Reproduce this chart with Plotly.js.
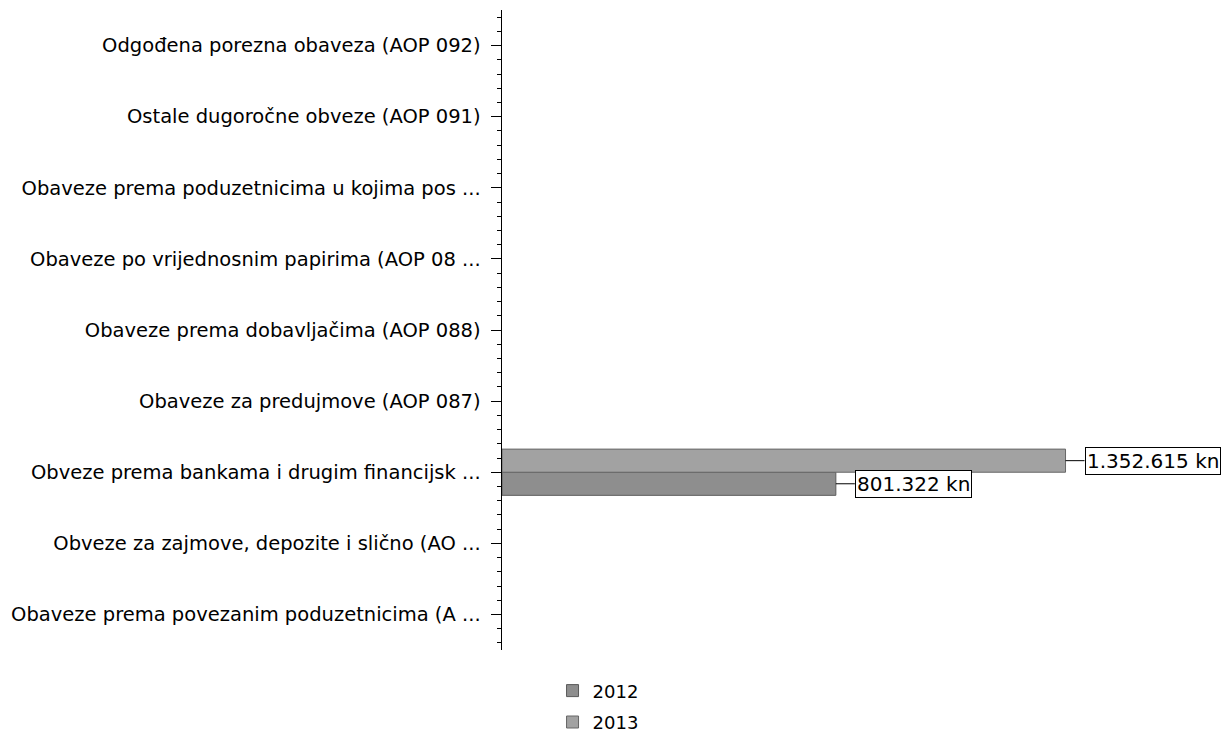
<!DOCTYPE html>
<html>
<head>
<meta charset="utf-8">
<script src="https://cdn.plot.ly/plotly-3.0.1.min.js"></script>
<style>html,body{margin:0;padding:0;background:#fff;}#chart{width:1224px;height:742px;}</style>
</head>
<body>
<div id="chart"></div>
<script>
// Categories, bottom to top
const categories = [
  "Obaveze prema povezanim poduzetnicima (A ...",
  "Obveze za zajmove, depozite i slično (AO ...",
  "Obveze prema bankama i drugim financijsk ...",
  "Obaveze za predujmove (AOP 087)",
  "Obaveze prema dobavljačima (AOP 088)",
  "Obaveze po vrijednosnim papirima (AOP 08 ...",
  "Obaveze prema poduzetnicima u kojima pos ...",
  "Ostale dugoročne obveze (AOP 091)",
  "Odgođena porezna obaveza (AOP 092)"
];
const seriesNames = ["2012", "2013"];
const values2012 = [null, null, 801322, null, null, null, null, null, null];
const values2013 = [null, null, 1352615, null, null, null, null, null, null];

const positions = categories.map((c, i) => i);
const BARGAP = 0.35;
const half = (1 - BARGAP) / 4;

function fmt(v) {
  return String(v).replace(/\B(?=(\d{3})+(?!\d))/g, ".") + " kn";
}

const font = "DejaVu Sans, Verdana, sans-serif";

const traces = [
  {
    type: "bar", orientation: "h", name: seriesNames[0], legendgroup: "a",
    x: values2012, y: positions,
    marker: {color: "#8e8e8e", line: {color: "#5a5a5a", width: 1}},
    hoverinfo: "x"
  },
  {
    type: "bar", orientation: "h", name: seriesNames[1], legendgroup: "b",
    x: values2013, y: positions,
    marker: {color: "#a2a2a2", line: {color: "#666", width: 1}},
    hoverinfo: "x"
  }
];

const annotations = [];
[values2012, values2013].forEach((arr, s) => {
  arr.forEach((v, i) => {
    if (v === null) return;
    annotations.push({
      x: v, y: i + (s === 0 ? -half : half), xref: "x", yref: "y",
      text: fmt(v), showarrow: true, arrowhead: 0, arrowwidth: 1, arrowcolor: "#000",
      ax: 19, ay: 0, xanchor: "left", standoff: 0, startstandoff: 0,
      bordercolor: "#000", borderwidth: 1, borderpad: 1, bgcolor: "#fff",
      font: {family: font, size: 20, color: "#000"}
    });
  });
});

const layout = {
  width: 1224, height: 742,
  margin: {l: 502, r: 0, t: 10, b: 92},
  paper_bgcolor: "#fff", plot_bgcolor: "#fff",
  barmode: "group", bargap: BARGAP, bargroupgap: 0,
  showlegend: true,
  legend: {
    x: 0.07, xanchor: "left", y: -0.035, yanchor: "top",
    orientation: "v", traceorder: "grouped", tracegroupgap: 5,
    font: {family: font, size: 18, color: "#000"}
  },
  xaxis: {
    range: [0, 1733000], visible: false, showgrid: false, zeroline: false, fixedrange: true
  },
  yaxis: {
    range: [-0.5, 8.5], tickmode: "array", tickvals: positions, ticktext: categories,
    ticks: "outside", ticklen: 10, tickcolor: "#000", tickwidth: 1,
    showline: true, linecolor: "#000", linewidth: 1.5,
    showgrid: false, zeroline: false, ticklabelstandoff: 6,
    tickfont: {family: font, size: 19.5, color: "#000"},
    minor: {tickmode: "linear", tick0: 0, dtick: 0.2, ticks: "outside", ticklen: 4, tickcolor: "#000", showgrid: false},
    fixedrange: true
  },
  annotations: annotations
};

Plotly.newPlot("chart", traces, layout, {displayModeBar: false, staticPlot: true});
</script>
</body>
</html>
